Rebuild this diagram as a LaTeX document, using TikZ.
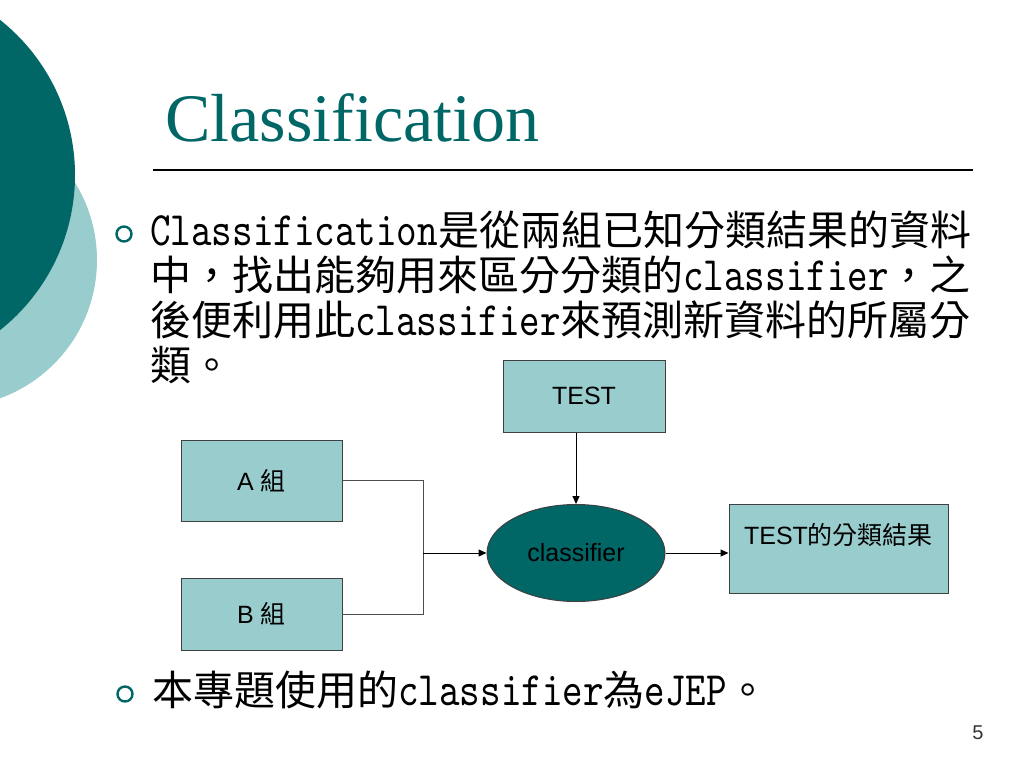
\documentclass[tikz,border=0pt]{standalone}
\usepackage{fontspec}
\setmainfont{Liberation Sans}
\newfontfamily\cjk{Noto Sans CJK TC}
\newfontfamily\serifT{Liberation Serif}
\newfontfamily\monoL[FakeStretch=0.816]{lmmono10-regular.otf}
\usetikzlibrary{shapes.geometric,arrows.meta}
\definecolor{tealdark}{RGB}{0,102,102}
\definecolor{teallight}{RGB}{153,204,204}
\definecolor{boxline}{RGB}{64,64,64}
\newcommand{\Lt}[1]{{\monoL\fontsize{48}{45}\selectfont #1}}
\tikzset{
  bodytext/.style={anchor=base west, inner sep=0pt, font={\cjk\fontsize{41}{45}\selectfont}},
  bulletring/.style={circle, draw=tealdark, line width=2.4pt, minimum size=15pt, inner sep=0pt},
  flowbox/.style={draw=boxline, line width=1pt, fill=teallight, inner sep=0pt, font={\fontsize{25}{28}\selectfont}},
  flowarrow/.style={draw=black, line width=1pt, -{Triangle[length=8pt,width=7pt]}},
  feedline/.style={draw=black!70, line width=1pt}
}
\begin{document}
\begin{tikzpicture}[x=1pt,y=-1pt]
\useasboundingbox (0,0) rectangle (1024,768);
% background circles
\fill[teallight] (-50,260) circle (147);
\fill[tealdark] (-123,175) circle (198);
% title
\node[anchor=base west, inner sep=0pt, text=tealdark, font={\serifT\fontsize{68}{70}\selectfont}] (title) at (165,141) {Classification};
\draw[line width=1.4pt] (153,170) -- (973,170);
% bullets
\node[bulletring] (b1) at (124,234) {};
\node[bodytext] (l1) at (150,245) {\Lt{Classification}是從兩組已知分類結果的資料};
\node[bodytext] (l2) at (150,290) {中，找出能夠用來區分分類的\Lt{classifier}，之};
\node[bodytext] (l3) at (150,335) {後便利用此\Lt{classifier}來預測新資料的所屬分};
\node[bodytext] (l4) at (150,380) {類。};
\node[bulletring] (b2) at (125,694) {};
\node[bodytext] (l5) at (152,705) {本專題使用的\Lt{classifier}為\Lt{eJEP}。};
% diagram
\node[flowbox, minimum width=162pt, minimum height=72pt] (test) at (584,396) {TEST};
\node[flowbox, minimum width=161pt, minimum height=81pt] (A) at (261.5,480.5) {A {\cjk 組}};
\node[flowbox, minimum width=161pt, minimum height=72pt] (B) at (261.5,614) {B {\cjk 組}};
\node[ellipse, draw=boxline, line width=1pt, fill=tealdark, minimum width=178pt, minimum height=97pt, inner sep=0pt, font={\fontsize{25}{28}\selectfont}] (cls) at (576,553) {classifier};
\node[flowbox, minimum width=219pt, minimum height=89pt] (res) at (838.5,549) {};
\node[inner sep=0pt, font={\fontsize{25}{28}\selectfont}] (restext) at (838.5,535) {TEST{\cjk 的分類結果}};
\coordinate (j) at (423,553);
\draw[feedline] (A.east) -- (A.east -| j) -- (B.east -| j) -- (B.east);
\draw[flowarrow] (j) -- (cls.west);
\draw[flowarrow] (test.south -| cls.north) -- (cls.north);
\draw[flowarrow] (cls.east) -- (res.west |- cls.east);
% page number
\node[inner sep=0pt, text=black!80, font={\fontsize{20}{22}\selectfont}] (pg) at (978,733) {5};
\end{tikzpicture}
\end{document}
